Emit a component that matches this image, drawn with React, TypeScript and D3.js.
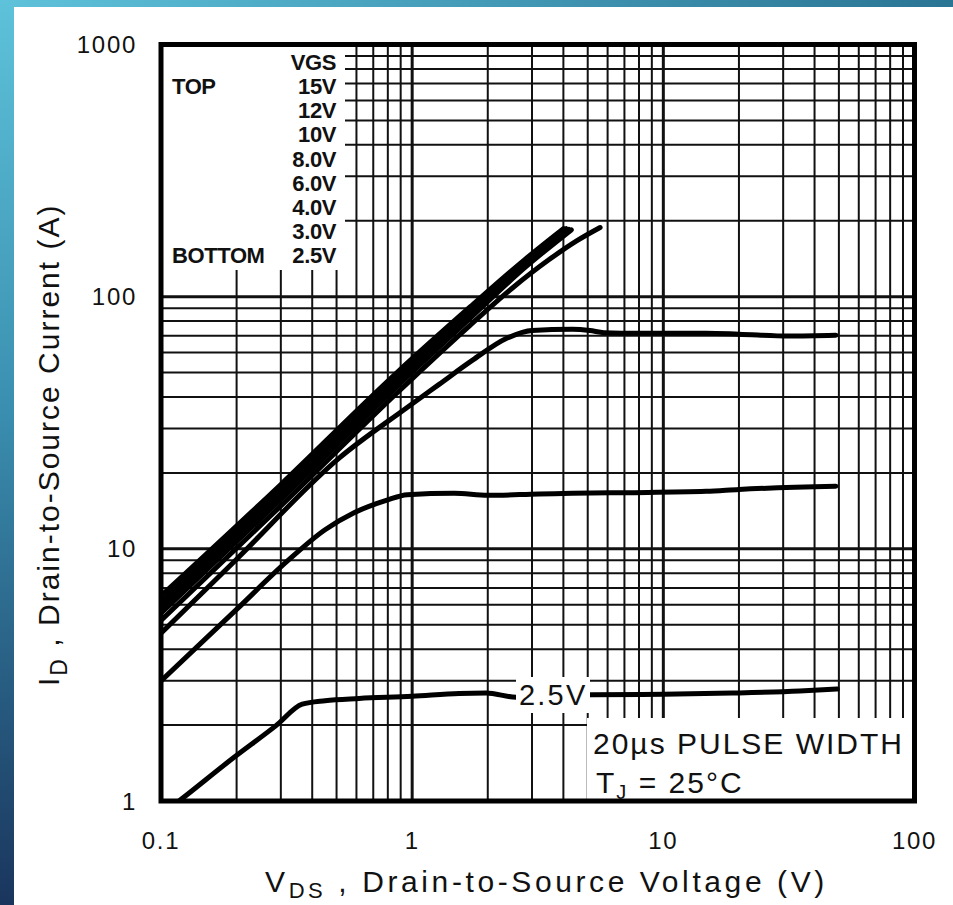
import * as d3 from "d3";

// Vgs legend entries, top to bottom
const legendHeader = "VGS";
const vgsLabels = ["15V", "12V", "10V", "8.0V", "6.0V", "4.0V", "3.0V", "2.5V"];

const xTickValues = [0.1, 1, 10, 100];
const yTickValues = [1, 10, 100, 1000];

// output curves, [Vds (V), Id (A)]
const vgs15 = [[0.1, 6.5], [0.3, 18], [0.87, 50], [1.7, 91], [2.8, 140], [4.0, 186]];
const vgs12 = [[0.1, 6.15], [0.3, 17.2], [0.87, 48], [1.7, 88], [2.8, 137], [4.1, 186]];
const vgs10 = [[0.1, 5.85], [0.3, 16.5], [0.87, 46], [1.7, 85], [2.8, 134], [4.2, 185]];
const vgs8 = [[0.1, 5.55], [0.3, 15.7], [0.87, 44], [1.7, 82], [2.8, 130], [4.3, 184]];
const vgs6 = [[0.1, 5.2], [0.3, 14.8], [0.87, 41.5], [1.7, 77], [2.5, 108], [3.5, 140], [4.5, 166], [5.6, 188]];
const vgs4 = [
  [0.1, 4.63], [0.2, 9.1], [0.512, 22.9], [0.946, 36.1], [1.28, 44.9], [1.74, 56], [2.38, 68.4],
  [3.0, 73.5], [4.34, 74.2], [5.1, 73.4], [5.8, 72], [8, 71.6], [14.8, 71.6], [20, 71], [31.6, 69.8], [48.6, 70.3],
];
const vgs3 = [
  [0.1, 2.99], [0.2, 5.75], [0.318, 8.93], [0.45, 11.9], [0.587, 13.9], [0.794, 15.6], [0.956, 16.4],
  [1.47, 16.6], [2.0, 16.3], [3.2, 16.5], [4.34, 16.6], [7, 16.7], [14.8, 16.9], [20, 17.2], [48.6, 17.7],
];
const vgs25 = [
  [0.1, 0.88], [0.121, 1.02], [0.192, 1.47], [0.287, 1.99], [0.365, 2.42], [0.45, 2.5], [0.615, 2.55],
  [1.0, 2.6], [1.54, 2.67], [1.97, 2.68], [2.6, 2.58], [3.5, 2.6], [5.2, 2.64], [10, 2.65], [18.8, 2.68],
  [34.9, 2.73], [49.3, 2.78],
];
const curves = [vgs15, vgs12, vgs10, vgs8, vgs6, vgs4, vgs3, vgs25];

const font = "'Liberation Sans', Arial, sans-serif";

export default function App() {
  const width = 953;
  const height = 905;
  const left = 161, right = 914.5, top = 44.5, bottom = 801;

  const x = d3.scaleLog().domain([0.1, 100]).range([left, right]);
  const y = d3.scaleLog().domain([1, 1000]).range([bottom, top]);
  const line = d3
    .line<number[]>()
    .x((d) => x(d[0]))
    .y((d) => y(d[1]))
    .curve(d3.curveMonotoneX);

  const isDecade = (v: number) => Math.abs(Math.log10(v) - Math.round(Math.log10(v))) < 1e-6;
  const xGrid = x.ticks();
  const yGrid = y.ticks();

  // legend rows
  const legendY = d3.scalePoint<string>().domain([legendHeader, ...vgsLabels]).range([70, 263]);

  return (
    <div style={{ position: "absolute", left: 0, top: 0 }}>
      <svg width={width} height={height} style={{ display: "block", background: "#fff" }}>
        <defs>
          <linearGradient id="topBar" x1="0" x2="1" y1="0" y2="0">
            <stop offset="0" stopColor="#5ec2da" />
            <stop offset="1" stopColor="#2a7494" />
          </linearGradient>
          <linearGradient id="leftBar" x1="0" x2="0" y1="0" y2="1">
            <stop offset="0" stopColor="#5ec2da" />
            <stop offset="0.45" stopColor="#3a8fb0" />
            <stop offset="1" stopColor="#1a355d" />
          </linearGradient>
          <clipPath id="plotClip">
            <rect x={left} y={top} width={right - left} height={bottom - top} />
          </clipPath>
        </defs>

        <rect x={0} y={0} width={width} height={7} fill="url(#topBar)" />
        <rect x={0} y={0} width={14} height={height} fill="url(#leftBar)" />

        {/* grid */}
        <g stroke="#111">
          {xGrid.map((v) => (
            <line key={`gx-${v}`} x1={x(v)} x2={x(v)} y1={top} y2={bottom} strokeWidth={isDecade(v) ? 3 : 2} />
          ))}
          {yGrid.map((v) => (
            <line key={`gy-${v}`} x1={left} x2={right} y1={y(v)} y2={y(v)} strokeWidth={isDecade(v) ? 3 : 2} />
          ))}
        </g>

        {/* legend and note boxes */}
        <rect x={left} y={top} width={345 - left} height={270 - top} fill="#fff" />
        <rect x={587} y={718} width={right - 587} height={bottom - 718} fill="#fff" />

        <g clipPath="url(#plotClip)" fill="none" stroke="#000" strokeWidth={5} strokeLinejoin="round" strokeLinecap="round">
          {curves.map((c, i) => (
            <path key={i} d={line(c) ?? ""} />
          ))}
        </g>

        {/* 2.5V label */}
        <rect x={516} y={677} width={74} height={36} fill="#fff" />
        <text x={519} y={705} fontFamily={font} fontSize={29} letterSpacing={2.2} fill="#111">
          2.5V
        </text>

        <rect x={left} y={top} width={right - left} height={bottom - top} fill="none" stroke="#000" strokeWidth={5} />

        {/* legend */}
        <g fontFamily={font} fontSize={22} fontWeight="bold" fill="#111" letterSpacing={-0.4}>
          <text x={336} y={legendY(legendHeader)} textAnchor="end">{legendHeader}</text>
          {vgsLabels.map((l) => (
            <text key={l} x={336} y={legendY(l)} textAnchor="end">{l}</text>
          ))}
          <text x={172} y={legendY(vgsLabels[0])}>TOP</text>
          <text x={172} y={legendY(vgsLabels[vgsLabels.length - 1])}>BOTTOM</text>
        </g>

        {/* note */}
        <g fontFamily={font} fontSize={30} fill="#111">
          <text x={593} y={754} letterSpacing={2}>20µs PULSE WIDTH</text>
          <text x={596} y={793} letterSpacing={2}>
            T<tspan dy={6} fontSize={20}>J</tspan>
            <tspan dy={-6}> = 25°C</tspan>
          </text>
        </g>

        {/* ticks */}
        <g fontFamily={font} fontSize={24} fill="#111" letterSpacing={1.7}>
          {yTickValues.map((v) => (
            <text key={`yt-${v}`} x={137} y={y(v)} textAnchor="end" dominantBaseline="central">{v}</text>
          ))}
          {xTickValues.map((v) => (
            <text key={`xt-${v}`} x={x(v)} y={840} textAnchor="middle" dominantBaseline="central">{v}</text>
          ))}
        </g>

        {/* axis titles */}
        <text x={265} y={892} fontFamily={font} fontSize={30} letterSpacing={3.6} fill="#111">
          V<tspan dy={6} fontSize={22}>DS</tspan>
          <tspan dy={-6}> , Drain-to-Source Voltage (V)</tspan>
        </text>
        <text transform="translate(59,686) rotate(-90)" fontFamily={font} fontSize={30} letterSpacing={2} fill="#111">
          I<tspan dy={8} fontSize={23}>D</tspan>
          <tspan dy={-8}> , Drain-to-Source Current (A)</tspan>
        </text>
      </svg>
    </div>
  );
}
